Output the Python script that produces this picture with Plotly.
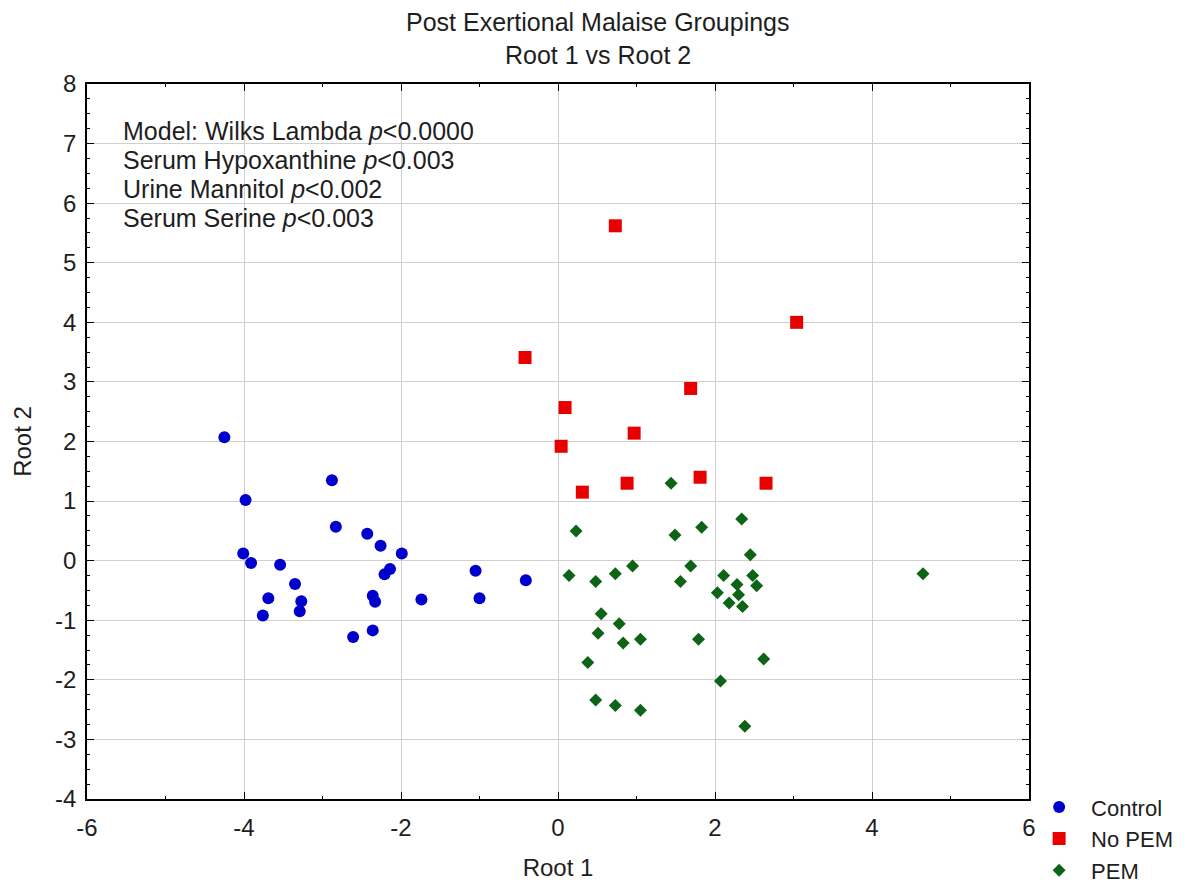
import plotly.graph_objects as go

# Control group
control_r1 = [-4.25, -3.98, -2.88, -2.83, -2.43, -2.26, -1.99, -4.01, -3.91, -3.54,
              -3.35, -3.69, -3.76, -3.27, -3.29, -2.14, -2.21, -2.36, -2.33, -2.61,
              -2.36, -1.74, -1.05, -1.00, -0.41]
control_r2 = [2.07, 1.02, 1.35, 0.57, 0.45, 0.25, 0.12, 0.12, -0.04, -0.07,
              -0.39, -0.63, -0.92, -0.68, -0.85, -0.14, -0.23, -0.59, -0.69, -1.28,
              -1.17, -0.65, -0.17, -0.63, -0.33]

# No PEM group
nopem_r1 = [0.73, 3.04, -0.42, 1.69, 0.09, 0.97, 0.04, 0.31, 0.88, 1.81, 2.65]
nopem_r2 = [5.62, 4.00, 3.41, 2.89, 2.57, 2.14, 1.92, 1.15, 1.30, 1.40, 1.30]

# PEM group
pem_r1 = [1.44, 0.23, 1.49, 1.83, 2.34, 2.45, 0.14, 0.48, 0.73, 0.95,
          1.69, 1.56, 2.11, 2.48, 2.53, 2.28, 2.03, 2.30, 2.18, 2.35,
          0.55, 0.78, 0.51, 0.83, 1.05, 1.79, 0.38, 2.62, 2.07, 0.48,
          0.73, 1.05, 2.38, 4.65]
pem_r2 = [1.30, 0.50, 0.43, 0.56, 0.70, 0.10, -0.25, -0.35, -0.22, -0.09,
          -0.09, -0.35, -0.25, -0.25, -0.42, -0.40, -0.54, -0.57, -0.71, -0.77,
          -0.89, -1.06, -1.22, -1.38, -1.32, -1.32, -1.71, -1.65, -2.02, -2.34,
          -2.43, -2.51, -2.78, -0.22]

# Tick labels (hyphen minus, as in the reference)
x_tickvals = [-6, -4, -2, 0, 2, 4, 6]
x_ticktext = ["-6", "-4", "-2", "0", "2", "4", "6"]
y_tickvals = [-4, -3, -2, -1, 0, 1, 2, 3, 4, 5, 6, 7, 8]
y_ticktext = ["-4", "-3", "-2", "-1", "0", "1", "2", "3", "4", "5", "6", "7", "8"]

stats_lines = [
    "Model: Wilks Lambda <i>p</i><0.0000",
    "Serum Hypoxanthine <i>p</i><0.003",
    "Urine Mannitol <i>p</i><0.002",
    "Serum Serine <i>p</i><0.003",
]
stats_y = [7.21, 6.73, 6.24, 5.75]

FONT = "Liberation Sans, Arial, sans-serif"
TXT = "#1e1e1e"

fig = go.Figure()
fig.add_trace(go.Scatter(x=control_r1, y=control_r2, mode="markers", name="Control",
                         marker=dict(symbol="circle", size=12, color="#0000CC")))
fig.add_trace(go.Scatter(x=nopem_r1, y=nopem_r2, mode="markers", name="No PEM",
                         marker=dict(symbol="square", size=13, color="#E80000")))
fig.add_trace(go.Scatter(x=pem_r1, y=pem_r2, mode="markers", name="PEM",
                         marker=dict(symbol="diamond", size=10, color="#0E6416")))

for txt, yy in zip(stats_lines, stats_y):
    fig.add_annotation(x=-5.57, y=yy, xref="x", yref="y", text=txt, showarrow=False,
                       xanchor="left", yanchor="middle",
                       font=dict(family=FONT, size=25, color=TXT))

fig.add_annotation(x=0.5425, y=1.0867, xref="paper", yref="paper",
                   text="Post Exertional Malaise Groupings", showarrow=False,
                   xanchor="center", yanchor="middle",
                   font=dict(family=FONT, size=25, color=TXT))
fig.add_annotation(x=0.5425, y=1.0406, xref="paper", yref="paper",
                   text="Root 1 vs Root 2", showarrow=False,
                   xanchor="center", yanchor="middle",
                   font=dict(family=FONT, size=25, color=TXT))

axis_common = dict(
    showline=True, linecolor="black", linewidth=1.5, mirror="ticks",
    showgrid=True, gridcolor="#D0D0D0", gridwidth=1,
    zeroline=False, ticks="inside", ticklen=7, tickcolor="black", tickwidth=1,
    tickfont=dict(family=FONT, size=24, color=TXT), automargin=False,
)

fig.update_xaxes(range=[-6, 6], tickmode="array", tickvals=x_tickvals, ticktext=x_ticktext,
                 minor=dict(dtick=1, tick0=-6, ticks="inside", ticklen=3, tickcolor="black", showgrid=False),
                 title=dict(text="Root 1", font=dict(family=FONT, size=24, color=TXT), standoff=20),
                 ticklabelstandoff=6, **axis_common)
fig.update_yaxes(range=[-4, 8], tickmode="array", tickvals=y_tickvals, ticktext=y_ticktext,
                 minor=dict(dtick=0.25, tick0=-4, ticks="inside", ticklen=3, tickcolor="black", showgrid=False),
                 title=dict(text="Root 2", font=dict(family=FONT, size=24, color=TXT), standoff=17),
                 ticklabelstandoff=4, **axis_common)

fig.update_layout(
    width=1186, height=876,
    margin=dict(l=79, r=165, t=76, b=85, autoexpand=False),
    plot_bgcolor="white", paper_bgcolor="white",
    font=dict(family=FONT, size=24, color=TXT),
    showlegend=True,
    legend=dict(x=0.998, y=0.018, xanchor="left", yanchor="top",
                font=dict(family=FONT, size=22, color=TXT),
                bgcolor="rgba(0,0,0,0)", tracegroupgap=0, itemwidth=54),
)

fig.write_html("out.html")
